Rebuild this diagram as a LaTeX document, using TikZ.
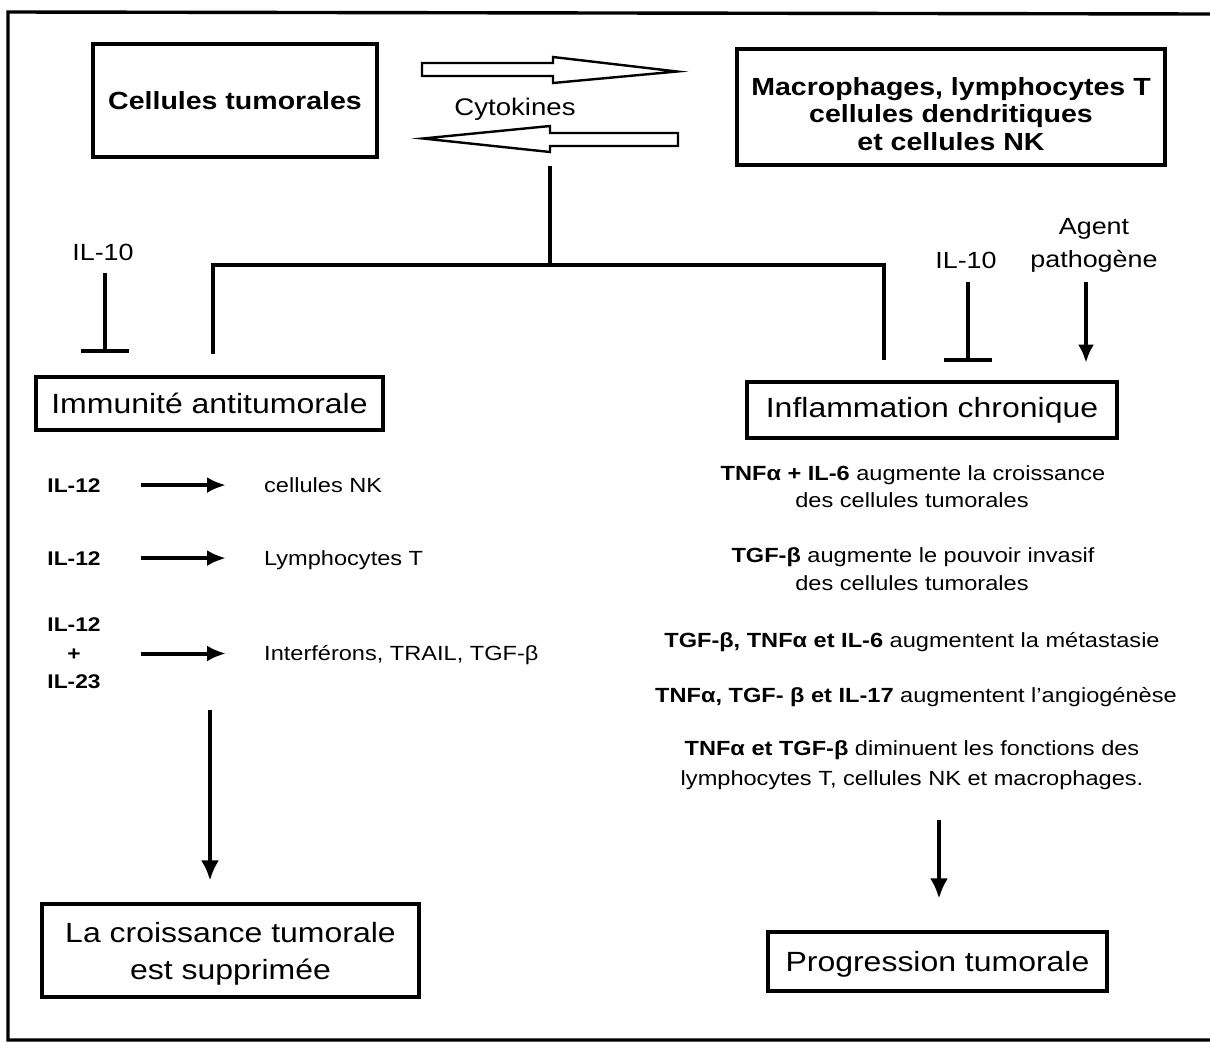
\documentclass[tikz,border=0pt]{standalone}
\usepackage{fontspec}
\setmainfont[FakeStretch=1.15]{Liberation Sans}
\usetikzlibrary{arrows.meta}
\begin{document}
\begin{tikzpicture}[x=1pt,y=-1pt,
  box/.style={draw, line width=3.2pt, inner sep=0pt, align=center},
  headfont/.style={font=\bfseries\fontsize{24.8}{27.5}\selectfont},
  bigfont/.style={font=\fontsize{27.8}{37}\selectfont},
  lbl/.style={inner sep=0pt, font=\fontsize{23.4}{33}\selectfont},
  small/.style={inner sep=0pt, font=\fontsize{20.5}{28.5}\selectfont},
  smallb/.style={inner sep=0pt, font=\bfseries\fontsize{19.8}{28.5}\selectfont},
  conn/.style={line width=3.6pt},
  hollow/.style={line width=2.4pt, line join=miter},
  inhib/.style={line width=3.6pt, -{Bar[width=48pt,line width=4.6pt]}},
  pointer/.style={line width=3.4pt, -{Latex[length=18pt,width=16pt]}},
  rowarr/.style={line width=4pt, -{Latex[length=19pt,width=16pt]}},
  longarr/.style={line width=3.4pt, -{Latex[length=20pt,width=18pt]}}
]
\useasboundingbox (0,0) rectangle (1210,1047);
\draw[line width=3.4pt] (1210,14) -- (8,12) -- (8,1040) -- (1210,1040);

% top boxes
\node[box, headfont, minimum width=284pt, minimum height=113pt] (tumor) at (235,100.5) {Cellules tumorales};
\node[box, headfont, minimum width=428pt, minimum height=116pt, text height=87pt] (macro) at (951,107) {Macrophages, lymphocytes T\\cellules dendritiques\\et cellules NK};
\node[lbl, anchor=base, font=\fontsize{24}{28}\selectfont] (cyto) at (515,115) {Cytokines};

% hollow arrows
\draw[hollow] (422,63) -- (553,63) -- (553,57) -- (677,71.5) -- (553,83) -- (553,76) -- (422,76) -- cycle;
\draw[hollow] (678,133) -- (550,133) -- (550,126) -- (423,138.5) -- (550,152) -- (550,146) -- (678,146) -- cycle;

% bracket
\coordinate (stem) at (550,166);
\coordinate (jn) at (550,265);
\coordinate (lleg) at (213,354);
\coordinate (rleg) at (884,360);
\draw[conn] (stem) -- (jn);
\draw[conn] (lleg) |- (jn) -| (rleg);

% left IL-10
\node[lbl, anchor=base] (il10L) at (103,260) {IL-10};
\draw[inhib] ([xshift=2pt,yshift=-13pt]il10L.south) -- ++(0,80);

% middle boxes
\node[box, bigfont, minimum width=347pt, minimum height=53pt] (immun) at (209.5,403.5) {Immunité antitumorale};
\node[box, bigfont, minimum width=370pt, minimum height=56pt] (inflam) at (932,410) {Inflammation chronique};

% right IL-10 and agent
\node[lbl, anchor=base] (il10R) at (966,268) {IL-10};
\draw[inhib] ([xshift=2pt,yshift=-14pt]il10R.south) -- ++(0,80);
\node[lbl, align=center] (agent) at (1094,245.5) {Agent\\pathogène};
\draw[pointer] ([xshift=-8pt,yshift=-9pt]agent.south) -- ++(0,81);

% left list
\node[smallb, anchor=base] (r1a) at (74,492) {IL-12};
\node[small, anchor=base west] (r1b) at (264,492) {cellules NK};
\draw[rowarr, shorten <=40pt, shorten >=38pt] (r1a.east) -- (r1a.east -| r1b.west);
\node[smallb, anchor=base] (r2a) at (74,565) {IL-12};
\node[small, anchor=base west] (r2b) at (264,565) {Lymphocytes T};
\draw[rowarr, shorten <=40pt, shorten >=38pt] (r2a.east) -- (r2a.east -| r2b.west);
\node[smallb, align=center] (r3a) at (74,653.5) {IL-12\\+\\IL-23};
\node[small, anchor=base west] (r3b) at (264,660) {Interférons, TRAIL, TGF-β};
\draw[rowarr, shorten <=40pt, shorten >=38pt] (r3a.east) -- (r3a.east -| r3b.west);

% left result
\coordinate (ls) at (210,710);
\node[box, bigfont, minimum width=377pt, minimum height=93pt, text height=63pt] (supp) at (230.5,950.5) {La croissance tumorale\\est supprimée};
\draw[longarr, shorten >=22pt] (ls) -- (ls |- supp.north);

% right texts
\node[small, anchor=base] (t1a) at (913,480) {\textbf{TNFα + IL-6} augmente la croissance};
\node[small, anchor=base] (t1b) at (912,507) {des cellules tumorales};
\node[small, anchor=base] (t2a) at (913,562) {\textbf{TGF-β} augmente le pouvoir invasif};
\node[small, anchor=base] (t2b) at (912,590) {des cellules tumorales};
\node[small, anchor=base] (t3) at (912,647) {\textbf{TGF-β, TNFα et IL-6} augmentent la métastasie};
\node[small, anchor=base] (t4) at (916,702) {\textbf{TNFα, TGF- β et IL-17} augmentent l'angiogénèse};
\node[small, anchor=base] (t5a) at (912,755) {\textbf{TNFα et TGF-β} diminuent les fonctions des};
\node[small, anchor=base] (t5b) at (912,785) {lymphocytes T, cellules NK et macrophages.};

% right result
\coordinate (rs) at (939,820);
\node[box, bigfont, minimum width=339pt, minimum height=59pt, text height=26pt] (prog) at (937.5,961.5) {Progression tumorale};
\draw[longarr, shorten >=32pt] (rs) -- (rs |- prog.north);
\end{tikzpicture}
\end{document}
